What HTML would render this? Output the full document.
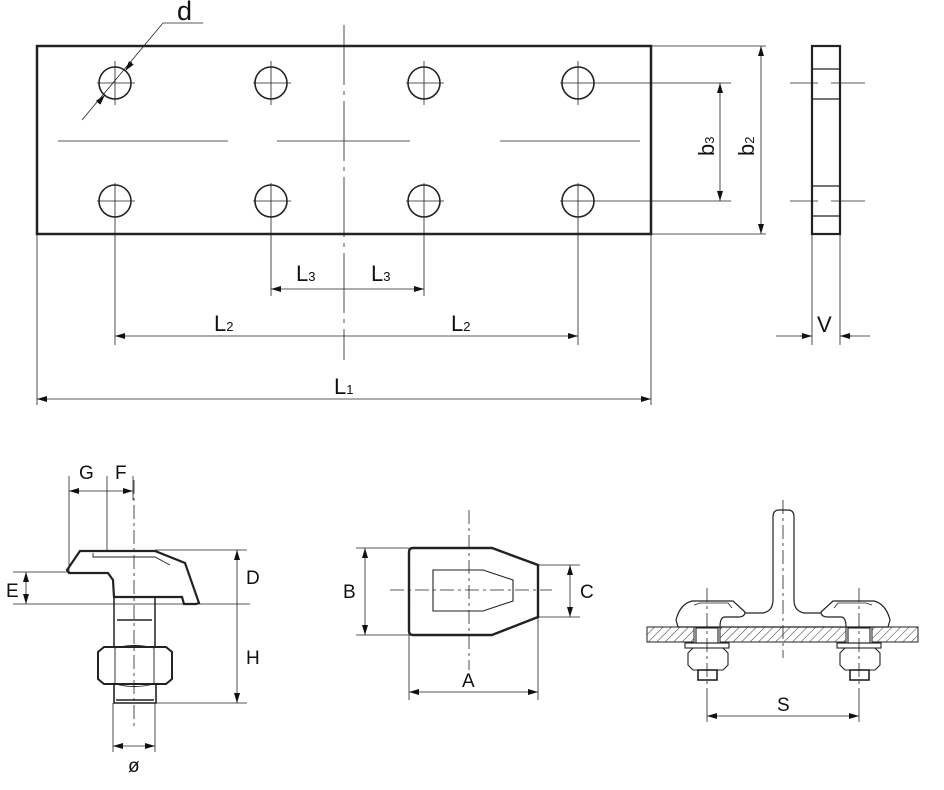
<!DOCTYPE html>
<html><head><meta charset="utf-8"><style>
html,body{margin:0;padding:0;background:#fff}
svg{display:block}
text{font-family:"Liberation Sans",Arial,sans-serif;fill:#111}
</style></head><body>
<svg width="944" height="790" viewBox="0 0 944 790" xmlns="http://www.w3.org/2000/svg">
<defs>
<marker id="a" viewBox="0 0 10 6" refX="10" refY="3" markerWidth="10" markerHeight="6" orient="auto-start-reverse" markerUnits="userSpaceOnUse"><path d="M0,0L10,3L0,6z" fill="#111"/></marker>
<pattern id="h" width="6" height="6" patternUnits="userSpaceOnUse" patternTransform="rotate(45)"><line x1="0" y1="0" x2="0" y2="6" stroke="#333" stroke-width="1"/></pattern>
</defs>
<g stroke="#222" fill="none" stroke-width="1">
<rect x="37" y="46" width="614" height="188" stroke-width="2.5"/>
<g stroke-width="1.6">
<circle cx="115" cy="83" r="16"/><circle cx="271" cy="83" r="16"/><circle cx="424" cy="83" r="16"/><circle cx="578" cy="83" r="16"/>
<circle cx="115" cy="201" r="16"/><circle cx="271" cy="201" r="16"/><circle cx="424" cy="201" r="16"/><circle cx="578" cy="201" r="16"/>
</g>
<g stroke-width="0.8">
<path d="M97,83H135M115,61V105M253,83H291M271,61V105M406,83H444M424,61V105M560,83H731M578,61V105"/>
<path d="M97,201H135M115,183V345M253,201H291M271,183V296M406,201H444M424,183V296M560,201H731M578,183V345"/>
<path d="M58,141H228M277,141H410M500,141H640"/>
<path d="M344,25V360" stroke-dasharray="60,6,4,6"/>
<path d="M651,46H766M651,234H766M37,234V405M651,234V405"/>
<path d="M82,120L163,23H203"/>
<path d="M720,83V201" marker-start="url(#a)" marker-end="url(#a)"/>
<path d="M761,46V234" marker-start="url(#a)" marker-end="url(#a)"/>
<path d="M271,289H344M344,289H424" marker-start="url(#a)" marker-end="url(#a)"/>
<path d="M115,336H344M344,336H578" marker-start="url(#a)" marker-end="url(#a)"/>
<path d="M37,399H651" marker-start="url(#a)" marker-end="url(#a)"/>
<path d="M98,103L104.7,95.3" marker-end="url(#a)"/><path d="M132,62L125.3,70.7" marker-end="url(#a)"/>
</g>
<rect x="812" y="46" width="28" height="188" stroke-width="2.2"/>
<path d="M812,69H840M812,99H840M812,186H840M812,216H840" stroke-width="1.2"/>
<g stroke-width="0.8">
<path d="M790,83H818M831,83H865M790,201H818M831,201H865"/>
<path d="M812,234V345M840,234V345M776,336H812M840,336H870"/>
<path d="M800,336H812" marker-end="url(#a)"/><path d="M852,336H840" marker-end="url(#a)"/>
</g>
<g stroke-width="0.8">
<path d="M69,476V572M107,476V550M133,476V500"/>
<path d="M69,491H107M107,491H133" marker-start="url(#a)" marker-end="url(#a)"/>
<path d="M134,480V727" stroke-dasharray="14,4,3,4"/>
<path d="M13,572H70M13,604H250M155,550H247M155,703H247"/>
<path d="M26,572V604" marker-start="url(#a)" marker-end="url(#a)"/>
<path d="M237,550V604M237,604V703" marker-start="url(#a)" marker-end="url(#a)"/>
<path d="M113,703V752M155,703V752"/>
<path d="M113,746H155" marker-start="url(#a)" marker-end="url(#a)"/>
</g>
<path d="M80,551H155L185,563L199,603L196,604H184L182,597H114L113,580L108,573H69L67,570Z" stroke-width="2.2"/>
<path d="M93,553V557H155L170,565" stroke-width="0.9"/>
<path d="M114,597V647M155,597V647M117,620H152" stroke-width="1.5"/>
<path d="M104,647H166L172,652V679L166,684H104L98,679V652Z" stroke-width="2"/>
<path d="M115,648V684M154,648V684M115,648Q134,643 154,648M115,684Q134,689 154,684" stroke-width="0.9"/>
<path d="M114,684V703H156V684M116,700H154" stroke-width="1.6"/>
<path d="M413,548H492L538,565V617L492,635H413Q409,635 409,631V552Q409,548 413,548Z" stroke-width="2.4"/>
<path d="M433,570H483L513,580V601L483,611H433Z" stroke-width="1.1"/>
<g stroke-width="0.8">
<path d="M390,590H552M469,510V670" stroke-dasharray="14,4,3,4"/>
<path d="M356,548H409M356,635H409M538,565H580M538,617H580M409,635V700M538,617V700"/>
<path d="M365,548V635" marker-start="url(#a)" marker-end="url(#a)"/>
<path d="M570,565V617" marker-start="url(#a)" marker-end="url(#a)"/>
<path d="M409,692H538" marker-start="url(#a)" marker-end="url(#a)"/>
</g>
<rect x="647" y="627" width="47" height="15" fill="url(#h)" stroke-width="1"/>
<rect x="720" y="627" width="126" height="15" fill="url(#h)" stroke-width="1"/>
<rect x="872" y="627" width="46" height="15" fill="url(#h)" stroke-width="1"/>
<path d="M718,627Q718,613 728,613H763Q773,611 773,600V517Q773,510 779,510H788Q794,510 794,517V600Q794,611 804,613H838Q848,613 848,627Z" fill="#fff" stroke-width="1.2"/>
<path d="M678,627L676,620Q680,604 692,601H733L745,612Q745,617 738,617H725Q720,617 720,627Z" fill="#fff" stroke-width="1.2"/>
<path d="M888,627L890,620Q886,604 874,601H833L821,612Q821,617 828,617H841Q846,617 846,627Z" fill="#fff" stroke-width="1.2"/>
<path d="M694,605L700,603H728L732,608M872,605L866,603H838L834,608" stroke-width="0.8"/>
<g stroke-width="1.1">
<rect x="696" y="628" width="22" height="15"/><rect x="848" y="628" width="22" height="15"/>
<rect x="685" y="643" width="44" height="5"/><rect x="837" y="643" width="44" height="5"/>
<path d="M693,648H723L728,653V665L723,670H693L688,665V653Z"/>
<path d="M845,648H875L880,653V665L875,670H845L840,665V653Z"/>
<rect x="698" y="670" width="19" height="10" stroke-width="1.6"/>
<rect x="850" y="670" width="19" height="10" stroke-width="1.6"/>
</g>
<g stroke-width="0.8">
<path d="M783,500V658M707,588V690M859,588V690" stroke-dasharray="14,4,3,4"/>
<path d="M707,690V722M859,690V722"/>
<path d="M707,716H859" marker-start="url(#a)" marker-end="url(#a)"/>
</g>
</g>
<g font-size="22">
<text x="177" y="20" font-size="27">d</text>
<text x="296" y="281">L<tspan font-size="13">3</tspan></text>
<text x="371" y="281">L<tspan font-size="13">3</tspan></text>
<text x="214" y="331">L<tspan font-size="13">2</tspan></text>
<text x="451" y="331">L<tspan font-size="13">2</tspan></text>
<text x="334" y="394">L<tspan font-size="13">1</tspan></text>
<text x="817" y="332">V</text>
<text transform="translate(714,156) rotate(-90)">b<tspan font-size="13">3</tspan></text>
<text transform="translate(754,156) rotate(-90)">b<tspan font-size="13">2</tspan></text>
</g>
<g font-size="19">
<text x="79" y="479">G</text>
<text x="115" y="479">F</text>
<text x="6" y="597">E</text>
<text x="246" y="584">D</text>
<text x="246" y="664">H</text>
<text x="128" y="772">ø</text>
<text x="343" y="598">B</text>
<text x="580" y="598">C</text>
<text x="462" y="687">A</text>
<text x="777" y="711">S</text>
</g>
</svg>
</body></html>
